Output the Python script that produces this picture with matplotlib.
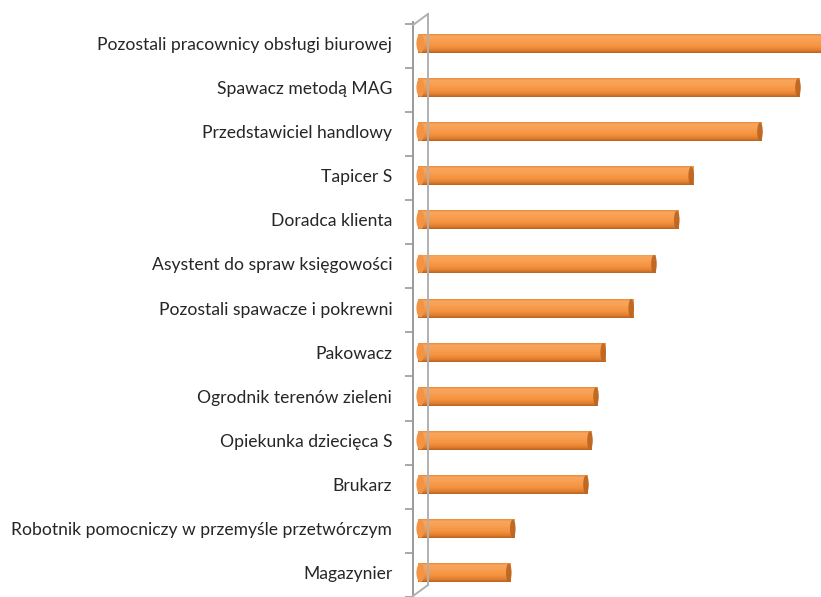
import matplotlib
matplotlib.use("Agg")
import matplotlib.pyplot as plt
import numpy as np
from matplotlib.lines import Line2D
from matplotlib.patches import Ellipse
from matplotlib.colors import LinearSegmentedColormap

categories = [
    "Pozostali pracownicy obsługi biurowej",
    "Spawacz metodą MAG",
    "Przedstawiciel handlowy",
    "Tapicer S",
    "Doradca klienta",
    "Asystent do spraw księgowości",
    "Pozostali spawacze i pokrewni",
    "Pakowacz",
    "Ogrodnik terenów zieleni",
    "Opiekunka dziecięca S",
    "Brukarz",
    "Robotnik pomocniczy w przemyśle przetwórczym",
    "Magazynier",
]
values = [105, 95.5, 86, 68.8, 65.2, 59.5, 53.8, 46.8, 45, 43.5, 42.5, 24.2, 23.2]

W, H = 821, 597
fig = plt.figure(figsize=(W / 100, H / 100), dpi=100)
fig.patch.set_facecolor("white")

ax_left_px = 413
spacing = 44.2
first_center = 43.5
ax_top_px = 22.0
ax = fig.add_axes([ax_left_px / W, 0.0, (W - ax_left_px) / W, (H - ax_top_px) / H])

n = len(categories)
y = np.arange(n)
axh_px = H - ax_top_px
top_val = -(first_center - ax_top_px) / spacing
bot_val = top_val + axh_px / spacing

px_per_unit = 4.0
start_px = 418 - ax_left_px
xmin = -start_px / px_per_unit
xmax = xmin + (W - ax_left_px) / px_per_unit

bar_h = 19 / spacing
cmap = LinearSegmentedColormap.from_list(
    "cyl", [(0.0, "#e98a3e"), (0.12, "#f9a65e"), (0.35, "#f8a052"),
            (0.65, "#f5923f"), (0.85, "#e07f30"), (1.0, "#b8621f")])
grad = np.linspace(0, 1, 256).reshape(-1, 1)
cap_w = 4 / px_per_unit

bars = ax.barh(y, values, height=bar_h, left=0, color="#f79646", edgecolor="none", zorder=2)
for yi, v, b in zip(y, values, bars):
    im = ax.imshow(grad, aspect="auto", cmap=cmap,
                   extent=[0, v, yi + bar_h / 2, yi - bar_h / 2],
                   origin="upper", zorder=3, interpolation="bilinear")
    im.set_clip_path(b)
    s = Ellipse((cap_w * 0.6, yi), cap_w * 2.0, bar_h * 0.98, facecolor="#f39445",
                edgecolor="none", zorder=3.5)
    ax.add_patch(s)
    e = Ellipse((v - cap_w / 2, yi), cap_w * 1.4, bar_h * 0.96, facecolor="#b96420",
                edgecolor="none", zorder=4, alpha=0.9)
    ax.add_patch(e)

ax.set_xlim(xmin, xmax)
ax.set_ylim(bot_val, top_val)

ax.set_yticks(y)
ax.set_yticklabels(categories, fontsize=12.6, color="#262626", family="Lato")
ax.tick_params(axis="y", which="major", length=0, pad=15)
ax.set_yticks(np.arange(n + 1) - 0.5 + 0.05, minor=True)
ax.tick_params(axis="y", which="minor", length=6, color="#9a9a9a", width=1.2, direction="out")
ax.set_xticks([])

for sp in ["top", "right", "bottom"]:
    ax.spines[sp].set_visible(False)
ax.spines["left"].set_color("#9a9a9a")
ax.spines["left"].set_linewidth(1.4)

g = "#b0b0b0"
fig.add_artist(Line2D([413 / W, 428 / W], [1 - 25 / H, 1 - 14 / H], color=g, lw=1.4))
fig.add_artist(Line2D([428 / W, 428 / W], [1 - 14 / H, 1 - 585 / H], color=g, lw=1.4))
fig.add_artist(Line2D([428 / W, 413 / W], [1 - 585 / H, 1 - 596 / H], color=g, lw=1.4))

fig.savefig("out.png", dpi=100, facecolor="white")
